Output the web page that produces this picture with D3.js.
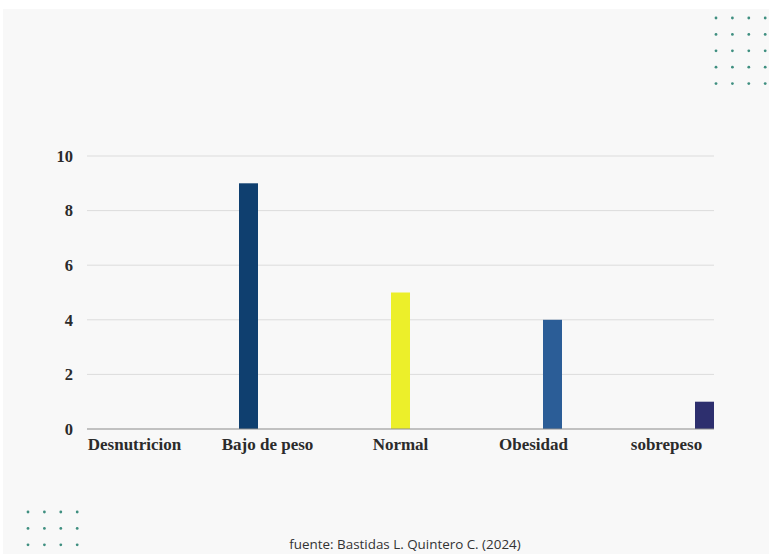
<!DOCTYPE html>
<html>
<head>
<meta charset="utf-8">
<script src="https://cdn.jsdelivr.net/npm/d3@7"></script>
<style>
  html, body { margin: 0; padding: 0; background: #ffffff; }
  svg { display: block; }
</style>
</head>
<body>
<svg id="chart" width="769" height="554"></svg>
<script>
// Estado nutricional: one series per category, each drawn in its own slot
const categories = ["Desnutricion", "Bajo de peso", "Normal", "Obesidad", "sobrepeso"];
const values = [0, 9, 5, 4, 1];
const barColors = ["#1f4e79", "#0f3f6f", "#ecef2a", "#2b5d97", "#2d2f6e"];
const yTicks = [0, 2, 4, 6, 8, 10];
const sourceText = "fuente: Bastidas L. Quintero C. (2024)";

const svg = d3.select("#chart");
const W = 769, H = 554;

// panel background
svg.append("rect")
  .attr("x", 3).attr("y", 9)
  .attr("width", W - 3).attr("height", H - 9)
  .attr("fill", "#f8f8f8");

// decorative dot grids
function dotGrid(x0, y0, cols, rows, step) {
  const pts = d3.cross(d3.range(cols), d3.range(rows));
  svg.append("g").selectAll("circle").data(pts).join("circle")
    .attr("cx", d => x0 + d[0] * step)
    .attr("cy", d => y0 + d[1] * step)
    .attr("r", 1.4)
    .attr("fill", "#3f8f80");
}
dotGrid(716, 18, 4, 5, 16.4);
dotGrid(28, 512, 4, 3, 16.4);

// scales
const x0 = d3.scaleBand().domain(categories).range([68, 733]).paddingInner(0).paddingOuter(0);
const x1 = d3.scaleBand().domain(categories).range([0, x0.bandwidth()]).paddingInner(0).paddingOuter(1);
const y = d3.scaleLinear().domain([0, 10]).range([429, 156]);

const gridLeft = x0(categories[0]) + x1(categories[0]);
const gridRight = x0(categories[categories.length - 1]) + x1(categories[categories.length - 1]) + x1.bandwidth();

// gridlines
svg.append("g").selectAll("line").data(yTicks.filter(t => t !== 0)).join("line")
  .attr("x1", gridLeft).attr("x2", gridRight)
  .attr("y1", d => y(d)).attr("y2", d => y(d))
  .attr("stroke", "#dcdcdc").attr("stroke-width", 1);

// y axis labels
const yAxis = d3.axisLeft(y).tickValues(yTicks).tickSize(0).tickPadding(0);
const gy = svg.append("g").attr("transform", "translate(73,0)").call(yAxis);
gy.select(".domain").remove();
gy.selectAll("text")
  .attr("font-family", "'Liberation Serif', 'Times New Roman', serif")
  .attr("font-weight", "bold")
  .attr("font-size", 16.5)
  .attr("fill", "#2b2b2b")
  .attr("dy", "0.32em");

// bars
svg.append("g").selectAll("rect").data(categories).join("rect")
  .attr("x", (c, i) => x0(c) + x1(c))
  .attr("y", (c, i) => y(values[i]))
  .attr("width", x1.bandwidth())
  .attr("height", (c, i) => y(0) - y(values[i]))
  .attr("fill", (c, i) => barColors[i]);

// baseline
svg.append("line")
  .attr("x1", gridLeft).attr("x2", gridRight)
  .attr("y1", y(0)).attr("y2", y(0))
  .attr("stroke", "#8a8a8a").attr("stroke-width", 1);

// category axis labels
const xAxis = d3.axisBottom(x0).tickSize(0).tickPadding(0);
const gx = svg.append("g").attr("transform", `translate(0,${y(0)})`).call(xAxis);
gx.select(".domain").remove();
gx.selectAll("text")
  .attr("font-family", "'Liberation Serif', 'Times New Roman', serif")
  .attr("font-weight", "bold")
  .attr("font-size", 17)
  .attr("fill", "#2b2b2b")
  .attr("y", 21)
  .attr("dy", 0);

// source note
svg.append("text")
  .attr("x", 405).attr("y", 549)
  .attr("text-anchor", "middle")
  .attr("font-family", "'Open Sans', 'Noto Sans', sans-serif")
  .attr("font-size", 13.4)
  .attr("fill", "#333")
  .text(sourceText);
</script>
</body>
</html>
